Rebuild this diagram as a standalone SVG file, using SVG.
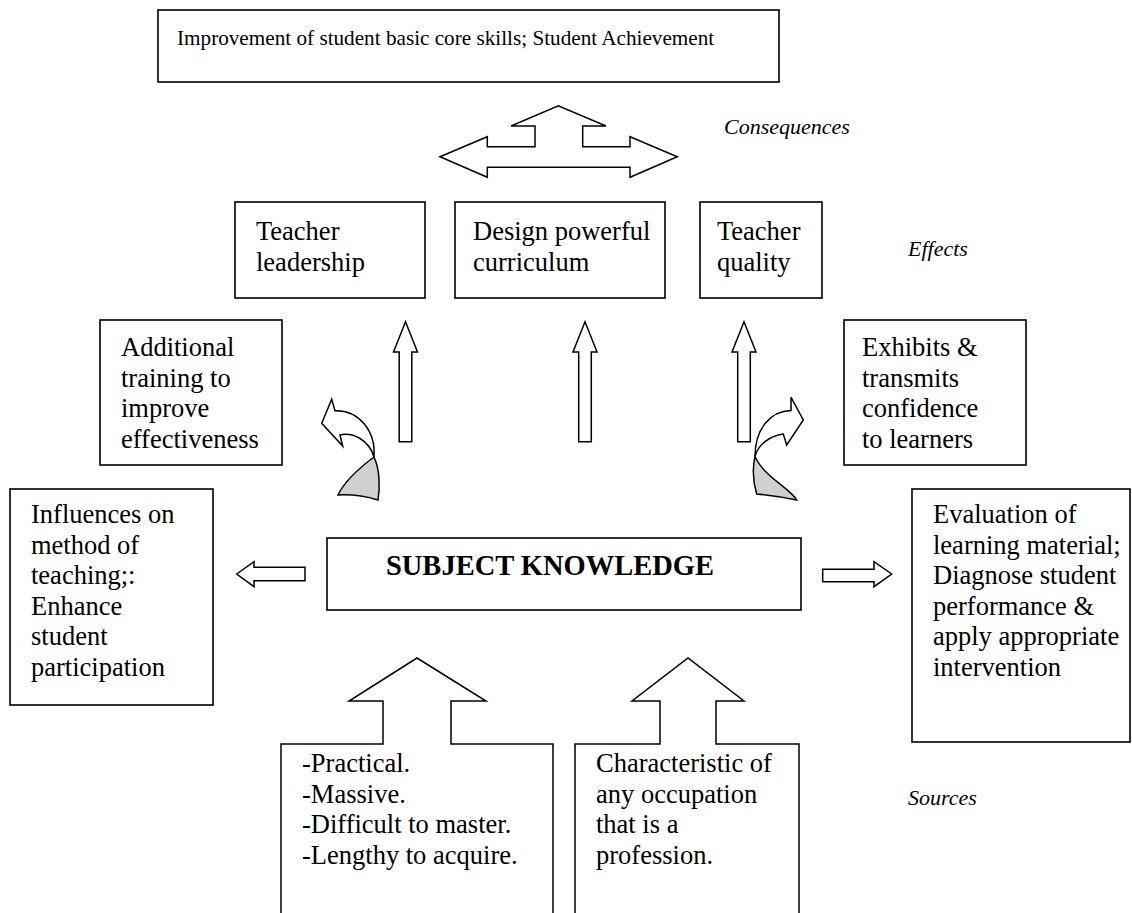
<svg xmlns="http://www.w3.org/2000/svg" width="1132" height="913" viewBox="0 0 1132 913">
<style>
.box{fill:#fff;stroke:#000;stroke-width:1.6}
.arr{fill:#fff;stroke:#000;stroke-width:1.5;stroke-linejoin:miter}
.grey{fill:#d0d0d0;stroke:#000;stroke-width:1.5}
text{font-family:"Liberation Serif","Times New Roman",serif;font-size:26.5px;fill:#000}
.top{font-size:21.2px}
.it{font-style:italic;font-size:22px}
.b{font-weight:bold;font-size:28.5px}
</style>
<rect width="1132" height="913" fill="#fff"/>

<g id="consequence-box">
<rect class="box" x="158" y="10" width="621" height="72"/>
<text class="top" x="177" y="45">Improvement of student basic core skills; Student Achievement</text>
</g>

<g id="label-consequences"><text class="it" x="724" y="134">Consequences</text></g>
<g id="label-effects"><text class="it" x="908" y="256">Effects</text></g>
<g id="label-sources"><text class="it" x="908" y="805">Sources</text></g>

<g id="teacher-leadership">
<rect class="box" x="235" y="202" width="190" height="96"/>
<text x="256" y="240">Teacher</text>
<text x="256" y="270.5">leadership</text>
</g>
<g id="design-curriculum">
<rect class="box" x="455" y="202" width="210" height="96"/>
<text x="473" y="240">Design powerful</text>
<text x="473" y="270.5">curriculum</text>
</g>
<g id="teacher-quality">
<rect class="box" x="700" y="202" width="122" height="96"/>
<text x="717" y="240">Teacher</text>
<text x="717" y="270.5">quality</text>
</g>

<g id="additional-training">
<rect class="box" x="100" y="320" width="182" height="145"/>
<text x="121" y="356">Additional</text>
<text x="121" y="386.5">training to</text>
<text x="121" y="417">improve</text>
<text x="121" y="447.5">effectiveness</text>
</g>
<g id="exhibits-confidence">
<rect class="box" x="844" y="320" width="182" height="145"/>
<text x="862" y="356">Exhibits &amp;</text>
<text x="862" y="386.5">transmits</text>
<text x="862" y="417">confidence</text>
<text x="862" y="447.5">to learners</text>
</g>

<g id="influences">
<rect class="box" x="10" y="489" width="203" height="216"/>
<text x="31" y="523">Influences on</text>
<text x="31" y="553.5">method of</text>
<text x="31" y="584">teaching;:</text>
<text x="31" y="614.5">Enhance</text>
<text x="31" y="645">student</text>
<text x="31" y="675.5">participation</text>
</g>

<g id="evaluation">
<rect class="box" x="912" y="489" width="218" height="253"/>
<text x="933" y="523">Evaluation of</text>
<text x="933" y="553.5">learning material;</text>
<text x="933" y="584">Diagnose student</text>
<text x="933" y="614.5">performance &amp;</text>
<text x="933" y="645">apply appropriate</text>
<text x="933" y="675.5">intervention</text>
</g>

<g id="subject-knowledge">
<rect class="box" x="327" y="538" width="474" height="72"/>
<text class="b" x="550" y="575" text-anchor="middle">SUBJECT KNOWLEDGE</text>
</g>

<g id="source-practical">
<path class="arr" d="M281,913 L281,744 L383,744 L383,701 L349,701 L417,658 L486,701 L451,701 L451,744 L553,744 L553,913"/>
<text x="302" y="772">-Practical.</text>
<text x="302" y="802.5">-Massive.</text>
<text x="302" y="833">-Difficult to master.</text>
<text x="302" y="863.5">-Lengthy to acquire.</text>
</g>
<g id="source-profession">
<path class="arr" d="M575,913 L575,744 L660,744 L660,701 L632,701 L688,658 L744,701 L716,701 L716,744 L799,744 L799,913"/>
<text x="596" y="772">Characteristic of</text>
<text x="596" y="802.5">any occupation</text>
<text x="596" y="833">that is a</text>
<text x="596" y="863.5">profession.</text>
</g>

<g id="connectors">
<path class="arr" d="M440,156.7 L487.3,136.7 L487.3,146.7 L535,146.7 L535,126 L511,126 L558.3,105.7 L606,126 L582.7,126 L582.7,146.7 L630,146.7 L630,136.7 L677.3,156.7 L630,177.3 L630,167.3 L487.3,167.3 L487.3,177.3 Z"/>
<path class="arr" d="M405.5,321.7 L417.5,352 L411.8,352 L411.8,441.7 L399.2,441.7 L399.2,352 L393.5,352 Z"/>
<path class="arr" d="M585,321.7 L597,352 L591.3,352 L591.3,441.7 L578.7,441.7 L578.7,352 L573,352 Z"/>
<path class="arr" d="M744,321.7 L756,352 L750.3,352 L750.3,441.7 L737.7,441.7 L737.7,352 L732,352 Z"/>
<path class="arr" d="M236.7,574 L254,561.7 L254,567.3 L305,567.3 L305,580.7 L254,580.7 L254,586.7 Z"/>
<path class="arr" d="M891.7,574 L874,561.7 L874,569.3 L822.7,569.3 L822.7,581.7 L874,581.7 L874,586.7 Z"/>
<path class="grey" d="M374,457 C380,470 380,488 378,500 Q358,494 338,495 C345,480 362,466 374,457 Z"/>
<path class="arr" d="M374,457 C376,430 358,410 335,410.7 L331.7,399.3 L321.7,423.3 L342.7,446 L340,435 C353,432 369,440 374,457 Z"/>
<path class="grey" d="M755,456.7 C752,470 754,485 756.7,494 Q777,496 796.7,500 C790,488 765,478 755,456.7 Z"/>
<path class="arr" d="M755,456.7 C755,428 771,411 791,410.5 L791,397.3 L803.3,420 L786.7,445 L783.3,434 C770,436 758,444 755,456.7 Z"/>
</g>
</svg>
